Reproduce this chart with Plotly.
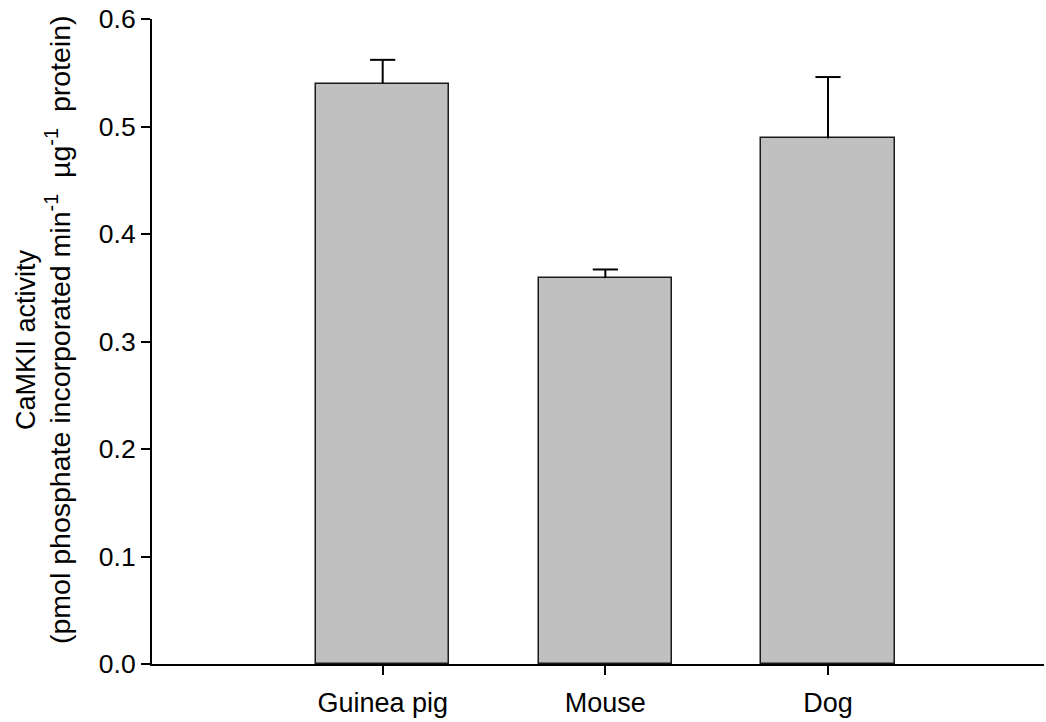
import plotly.graph_objects as go

# CaMKII activity by species (mean with upper SEM)
species = ["Guinea pig", "Mouse", "Dog"]
activity = [0.540, 0.359, 0.489]
sem = [0.022, 0.008, 0.057]
y_ticks = [0.0, 0.1, 0.2, 0.3, 0.4, 0.5, 0.6]
y_tick_text = ["0.0", "0.1", "0.2", "0.3", "0.4", "0.5", "0.6"]
y_title_lines = [
    "CaMKII activity",
    "(pmol phosphate incorporated min<sup>-1</sup>  µg<sup>-1</sup>  protein)",
]

FONT = "Arial, Liberation Sans, sans-serif"
xpos = list(range(len(species)))

fig = go.Figure()
fig.add_trace(go.Bar(
    x=xpos,
    y=activity,
    width=0.6,
    marker=dict(color="#C0C0C0", line=dict(color="#1a1a1a", width=1.5)),
    showlegend=False,
))
# upward-only error stems
fig.add_trace(go.Scatter(
    x=xpos, y=activity, mode="markers",
    marker=dict(size=1, opacity=0),
    error_y=dict(type="data", symmetric=False, array=sem,
                 arrayminus=[0] * len(sem), color="black", thickness=2, width=0),
    showlegend=False, hoverinfo="skip",
))
# caps at the top of each error stem
fig.add_trace(go.Scatter(
    x=xpos, y=[a + s for a, s in zip(activity, sem)], mode="markers",
    marker=dict(symbol="line-ew", size=18, line=dict(color="black", width=2)),
    showlegend=False, hoverinfo="skip",
))

fig.update_layout(
    width=1046, height=722,
    margin=dict(l=152, r=2, t=19, b=58),
    plot_bgcolor="white", paper_bgcolor="white",
    font=dict(family=FONT, size=27, color="black"),
    bargap=0,
)
fig.update_xaxes(
    range=[-1.036, 2.97],
    tickmode="array", tickvals=xpos, ticktext=species,
    ticks="outside", ticklen=9, tickwidth=2, tickcolor="black",
    showline=True, linecolor="black", linewidth=2,
    showgrid=False, zeroline=False,
    tickfont=dict(size=27), ticklabelstandoff=5,
)
fig.update_yaxes(
    range=[0, 0.6],
    tickmode="array", tickvals=y_ticks, ticktext=y_tick_text,
    ticks="outside", ticklen=9, tickwidth=2, tickcolor="black",
    showline=True, linecolor="black", linewidth=2,
    showgrid=False, zeroline=False,
    tickfont=dict(size=26.5),
)

# two-line rotated axis title, each line placed on its own
for line, xc, yc, fs in zip(y_title_lines, [26, 58], [340, 330], [27, 28.5]):
    fig.add_annotation(
        xref="paper", yref="paper",
        x=(xc - 152) / 892, y=(664 - yc) / 645,
        xanchor="center", yanchor="middle",
        textangle=-90, showarrow=False,
        font=dict(family=FONT, size=fs, color="black"),
        text=line,
    )

fig.write_html("out.html")
